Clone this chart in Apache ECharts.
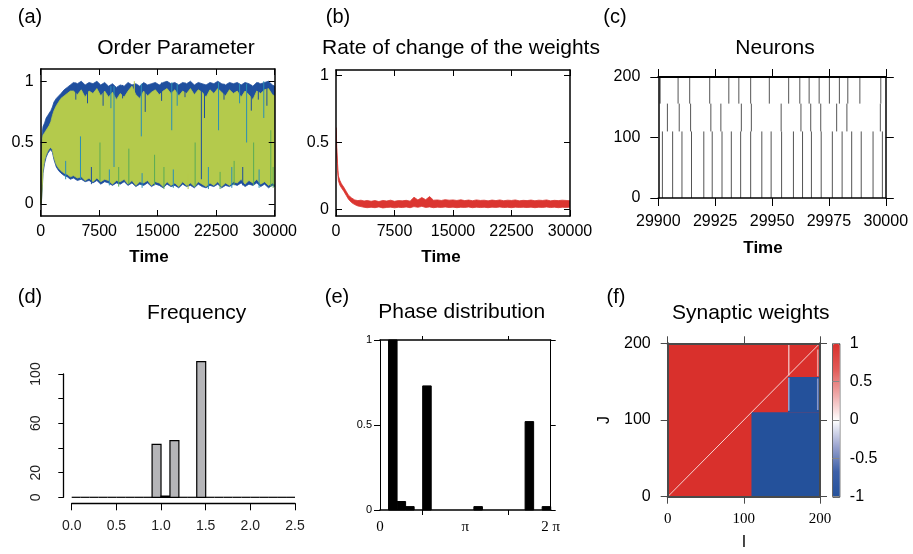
<!DOCTYPE html>
<html><head><meta charset="utf-8">
<script src="https://cdn.jsdelivr.net/npm/echarts@6/dist/echarts.min.js"></script>
<style>html,body{margin:0;padding:0;background:#fff}#c{width:913px;height:554px}</style>
</head><body><div id="c"></div><script>
// ---------------- DATA ----------------
// (a) Order parameter: envelopes of the oscillating traces
const aTime = [0,100,200,300,500,700,900,1100,1300,1500,1700,2000,2300,2600,3000,3400,3800,4200,4700,5200,5700,6200,6700,7200,7700,8200,8700,9200,9700,10200,10700,11200,11700,12200,12700,13200,13700,14200,14700,15200,15700,16200,16700,17200,17700,18200,18700,19200,19700,20200,20700,21200,21700,22200,22700,23200,23700,24200,24700,25200,25700,26200,26700,27200,27700,28200,28700,29200,29700,30000];
const aBlueHi = [0.06,0.45,0.58,0.63,0.66,0.70,0.72,0.74,0.76,0.79,0.83,0.86,0.88,0.90,0.93,0.95,0.97,0.99,0.98,1.00,0.97,0.99,0.98,1.00,0.97,0.99,0.96,0.98,0.95,0.97,0.96,0.99,0.97,0.98,0.96,0.99,0.97,0.98,0.99,0.97,0.99,1.00,0.98,0.99,0.97,0.99,0.98,1.00,0.97,0.99,0.98,0.97,0.99,0.98,1.00,0.98,0.97,0.99,0.98,0.99,0.97,0.99,0.98,0.96,0.99,0.98,0.99,1.00,0.97,0.96];
const aBlueLo = [0.00,0.02,0.12,0.25,0.33,0.38,0.41,0.43,0.44,0.42,0.36,0.30,0.27,0.25,0.23,0.22,0.20,0.21,0.19,0.20,0.18,0.19,0.17,0.19,0.16,0.18,0.17,0.15,0.17,0.16,0.18,0.15,0.17,0.14,0.16,0.15,0.17,0.14,0.16,0.15,0.13,0.16,0.14,0.15,0.13,0.16,0.14,0.15,0.13,0.16,0.14,0.13,0.15,0.14,0.16,0.13,0.15,0.14,0.16,0.15,0.17,0.14,0.16,0.15,0.17,0.14,0.16,0.13,0.15,0.14];
const aGreenHi = [0.04,0.40,0.52,0.56,0.58,0.60,0.62,0.64,0.67,0.72,0.76,0.80,0.83,0.86,0.88,0.90,0.92,0.92,0.89,0.93,0.87,0.92,0.90,0.94,0.88,0.92,0.87,0.91,0.85,0.90,0.87,0.92,0.96,0.89,0.86,0.92,0.88,0.91,0.93,0.89,0.92,0.94,0.90,0.93,0.88,0.92,0.90,0.94,0.89,0.93,0.91,0.87,0.93,0.90,0.94,0.91,0.88,0.93,0.90,0.92,0.87,0.92,0.89,0.85,0.92,0.90,0.93,0.94,0.89,0.88];
const aGreenLo = [0.00,0.03,0.15,0.28,0.36,0.40,0.43,0.45,0.46,0.44,0.38,0.32,0.29,0.27,0.25,0.24,0.22,0.23,0.21,0.22,0.19,0.21,0.18,0.21,0.18,0.20,0.19,0.16,0.19,0.18,0.20,0.16,0.19,0.15,0.18,0.17,0.19,0.15,0.18,0.17,0.14,0.18,0.15,0.17,0.14,0.18,0.15,0.17,0.14,0.18,0.16,0.14,0.17,0.15,0.18,0.14,0.17,0.15,0.18,0.17,0.20,0.16,0.19,0.17,0.20,0.16,0.18,0.15,0.17,0.16];
// single traces standing out of the band: [time, low, high, colour index]
const aSpikes = [[5100,0.20,0.55,0],[7600,0.18,0.50,1],[9400,0.30,0.96,0],[11300,0.16,0.45,1],[12000,0.88,1.00,2],[12900,0.55,0.98,0],[14600,0.15,0.40,1],[16800,0.60,0.99,0],[19800,0.14,0.50,1],[20600,0.20,0.96,3],[22800,0.60,0.99,0],[24800,0.15,0.35,1],[26400,0.50,0.98,0],[27300,0.15,0.50,1],[28600,0.70,1.00,0],[29500,0.14,0.60,1],
  [4500,0.85,0.99,3],[6000,0.82,0.98,3],[8000,0.80,0.97,3],[9000,0.78,0.96,0],[10500,0.86,0.97,3],[13400,0.75,0.98,3],[15500,0.84,0.99,3],[17500,0.80,0.98,0],[18500,0.87,0.99,3],[21000,0.70,0.97,3],[23500,0.85,0.98,3],[25500,0.82,0.98,0],[27000,0.76,0.97,3],[27900,0.85,0.99,3],[29000,0.80,0.99,3],
  [3200,0.20,0.35,0],[6500,0.16,0.30,3],[8800,0.15,0.28,0],[10000,0.14,0.30,1],[13000,0.13,0.25,0],[15800,0.12,0.30,1],[17000,0.13,0.28,0],[18900,0.12,0.25,2],[21500,0.12,0.30,0],[23000,0.12,0.26,1],[24500,0.13,0.30,0],[25900,0.15,0.30,3],[28000,0.13,0.28,0],[29800,0.13,0.30,1]];

// (b) Rate of change of the weights: band envelope
const bTime = [0,50,100,200,300,500,700,1000,1300,1600,2000,2400,2800,3200,3600,4000,4500,5000,5500,6000,6500,7000,7500,8000,8500,9000,9500,10000,10500,11000,11500,12000,12500,13000,13500,14000,14500,15000,15500,16000,16500,17000,17500,18000,18500,19000,19500,20000,20500,21000,21500,22000,22500,23000,23500,24000,24500,25000,25500,26000,26500,27000,27500,28000,28500,29000,29500,30000];
const bHi = [0.61,0.56,0.46,0.34,0.25,0.215,0.19,0.165,0.135,0.105,0.085,0.07,0.065,0.068,0.062,0.066,0.060,0.065,0.058,0.066,0.062,0.068,0.060,0.065,0.063,0.067,0.061,0.090,0.070,0.088,0.072,0.095,0.068,0.070,0.066,0.072,0.068,0.070,0.066,0.071,0.065,0.069,0.064,0.070,0.066,0.068,0.063,0.069,0.065,0.070,0.064,0.068,0.066,0.070,0.063,0.067,0.065,0.069,0.064,0.068,0.066,0.070,0.063,0.067,0.065,0.068,0.066,0.064];
const bLo = [0.57,0.50,0.40,0.29,0.215,0.18,0.16,0.135,0.105,0.075,0.05,0.035,0.025,0.02,0.015,0.012,0.015,0.012,0.018,0.010,0.014,0.016,0.011,0.015,0.013,0.017,0.012,0.020,0.015,0.022,0.014,0.018,0.012,0.016,0.014,0.017,0.013,0.016,0.012,0.015,0.014,0.017,0.012,0.016,0.013,0.015,0.012,0.016,0.014,0.017,0.013,0.015,0.012,0.016,0.014,0.015,0.013,0.016,0.012,0.015,0.014,0.017,0.013,0.016,0.012,0.015,0.014,0.016];

// (c) Neurons raster: spike times of the three groups, and their neuron ranges
const groupRanges = [[0,110],[110,156],[156,200]];
const spikesLow = [29901.8,29906.3,29910.4,29914.6,29920.0,29923.7,29928.0,29932.1,29936.2,29940.6,29945.5,29949.6,29954.2,29959.4,29963.4,29967.3,29971.6,29976.5,29980.8,29985.0,29989.2,29994.4,29998.5];
const spikesMid = [29904.0,29909.2,29914.2,29923.1,29927.5,29936.5,29940.9,29954.0,29962.7,29967.0,29971.4,29978.4,29982.9,29997.6];
const spikesTop = [29900.8,29908.7,29913.8,29922.6,29931.0,29935.4,29940.6,29948.8,29957.3,29962.2,29966.3,29970.7,29975.2,29979.6,29983.3,29988.6,29997.8];

// (d) Frequency histogram
const freqEdges = [0,0.1,0.2,0.3,0.4,0.5,0.6,0.7,0.8,0.9,1.0,1.1,1.2,1.3,1.4,1.5,1.6,1.7,1.8,1.9,2.0,2.1,2.2,2.3,2.4,2.5];
const freqCounts = [0,0,0,0,0,0,0,0,0,43,1,46,0,0,110,0,0,0,0,0,0,0,0,0,0];

// (e) Phase distribution: [bin start, bin end] in units of pi, height
const phaseBins = [[0.1,0.2,1.0],[0.2,0.3,0.05],[0.3,0.4,0.02],[0.5,0.6,0.73],[1.1,1.2,0.02],[1.7,1.8,0.52],[1.9,2.0,0.02]];

// (f) Synaptic weights: blocks [I0, I1, J0, J1, weight]
const weightBlocks = [[0,200,0,200,1],[110,200,0,110,-1],[158,200,110,156,-1],[158,160,158,198,0.3],[158,160,112,155,-0.35],[196,198,157,192,0.4],[196,198,113,154,-0.4]];
const diagonal = [[0,0],[200,200]];
const colorbarTicks = [-1,-0.5,0,0.5,1];

// ---------------- LAYOUT / HELPERS ----------------
const SANS = '"Liberation Sans", Arial, Helvetica, sans-serif';
const SERIF = '"Liberation Serif", "Times New Roman", serif';
const grids = [], xAxes = [], yAxes = [], series = [], graphics = [];

function addGrid(l,t,w,h){ grids.push({left:l,top:t,width:w,height:h,containLabel:false,outerBoundsMode:'none'}); return grids.length-1; }
function axis(gi,pos,min,max,o){
  const primary = (pos==='bottom'||pos==='left');
  const a = {
    gridIndex:gi, type:'value', position:pos, min:min, max:max, z:o.z||5,
    axisLine:{show:o.line!==false, onZero:false, lineStyle:{color:o.color||'#000', width:o.lw||1.5}},
    axisTick:{show:o.ticks!==false, inside:!!o.inside, length:o.tl||5, lineStyle:{color:o.color||'#000', width:o.tw||1}},
    axisLabel:{show:primary && o.labels!==false, margin:o.margin||8, fontSize:o.fs||16, fontFamily:o.ff||SANS, color:o.lc||'#000',
      formatter:o.fmt||(v=>String(v)), showMinLabel:true, showMaxLabel:true},
    splitLine:{show:!!o.split, lineStyle:{color:'#888', width:1}}
  };
  if (o.interval!==undefined) a.interval = o.interval;
  if (o.tickValues) a.axisTick.customValues = o.tickValues;
  if (o.labelValues) a.axisLabel.customValues = o.labelValues;
  if (o.offset) a.offset = o.offset;
  if (o.rotate) a.axisLabel.rotate = o.rotate;
  if (o.show===false) a.show = false;
  return a;
}
function addX(a){ xAxes.push(a); return xAxes.length-1; }
function addY(a){ yAxes.push(a); return yAxes.length-1; }
function text(x,y,s,font,extra){ graphics.push(Object.assign({type:'text', x:x, y:y, silent:true, style:{text:s, font:font, fill:'#000', textAlign:'center', textVerticalAlign:'middle', verticalAlign:'middle'}}, extra||{})); }
function bandRender(ts,hi,lo,color){
  return function(p,api){
    const pts=[];
    for(let i=0;i<ts.length;i++) pts.push(api.coord([ts[i],hi[i]]));
    for(let i=ts.length-1;i>=0;i--) pts.push(api.coord([ts[i],lo[i]]));
    return {type:'polygon', shape:{points:pts}, style:{fill:color, stroke:color, lineWidth:0.8}};
  };
}

// ---- (a)
const gA = addGrid(40.7,69,234,147);
const xA = addX(axis(gA,'bottom',0,30000,{interval:7500,inside:true,tl:6}));
addX(axis(gA,'top',0,30000,{interval:7500,inside:true,tl:6}));
const yA = addY(axis(gA,'left',-0.1,1.1,{tickValues:[0,0.5,1],labelValues:[0,0.5,1],inside:true,tl:6,margin:7}));
addY(axis(gA,'right',-0.1,1.1,{tickValues:[0,0.5,1],inside:true,tl:6}));
const spikeColors = ['#2b8fb5','#5aab55','#b4ca4c','#1f4f9e'];
series.push({type:'custom', xAxisIndex:xA, yAxisIndex:yA, data:[[0,0]], silent:true, clip:true, renderItem:bandRender(aTime,aBlueHi,aBlueLo,'#1f4f9e'), z:2});
series.push({type:'custom', xAxisIndex:xA, yAxisIndex:yA, data:[[0,0]], silent:true, clip:true, renderItem:bandRender(aTime,aGreenHi,aGreenLo,'#b4ca4c'), z:3});
series.push({type:'custom', xAxisIndex:xA, yAxisIndex:yA, data:aSpikes, silent:true, clip:true, encode:{x:0,y:[1,2]}, z:4,
  renderItem:function(p,api){ const a=api.coord([api.value(0),api.value(1)]), b=api.coord([api.value(0),api.value(2)]);
    return {type:'line', shape:{x1:a[0],y1:a[1],x2:b[0],y2:b[1]}, style:{stroke:spikeColors[api.value(3)], lineWidth:1}}; }});

// ---- (b)
const gB = addGrid(336,70,234,146);
const xB = addX(axis(gB,'bottom',0,30000,{interval:7500,inside:true,tl:6}));
addX(axis(gB,'top',0,30000,{interval:7500,inside:true,tl:6}));
const yB = addY(axis(gB,'left',-0.05,1.04,{tickValues:[0,0.5,1],labelValues:[0,0.5,1],inside:true,tl:6,margin:7}));
addY(axis(gB,'right',-0.05,1.04,{tickValues:[0,0.5,1],inside:true,tl:6}));
series.push({type:'custom', xAxisIndex:xB, yAxisIndex:yB, data:[[0,0]], silent:true, clip:true, renderItem:bandRender(bTime,bHi,bLo,'#db3530'), z:2});

// ---- (c)
const gC = addGrid(658.3,77,227.5,121);
const xC = addX(axis(gC,'bottom',29900,30000,{interval:25,tl:8,margin:16}));
addX(axis(gC,'top',29900,30000,{interval:25,tl:8,lw:2}));
const yC = addY(axis(gC,'left',0,200,{interval:100,tl:8,margin:18}));
addY(axis(gC,'right',0,200,{interval:100,tl:8}));
const rasterData = [];
[spikesLow,spikesMid,spikesTop].forEach((arr,g)=>arr.forEach(t=>rasterData.push([t,groupRanges[g][0],groupRanges[g][1]])));
series.push({type:'custom', xAxisIndex:xC, yAxisIndex:yC, data:rasterData, silent:true, clip:true, encode:{x:0,y:[1,2]}, z:2,
  renderItem:function(p,api){ const a=api.coord([api.value(0),api.value(1)]), b=api.coord([api.value(0),api.value(2)]);
    return {type:'line', shape:{x1:a[0],y1:a[1],x2:b[0],y2:b[1]}, style:{stroke:'#555', lineWidth:1}}; }});

// ---- (d)
const gD = addGrid(71.7,374,223.3,123.3);
const xD = addX(axis(gD,'bottom',0,2.5,{interval:0.5,tl:7,offset:6,margin:16,fs:14,lc:'#222',fmt:v=>v.toFixed(1),lw:1.3}));
const yD = addY(axis(gD,'left',0,100,{tickValues:[0,20,40,60,80,100],labelValues:[0,20,60,100],tl:5,offset:8.4,margin:20,fs:14,lc:'#222',rotate:90,lw:1.3}));
const freqData = freqCounts.map((c,i)=>[freqEdges[i],freqEdges[i+1],c]);
series.push({type:'custom', xAxisIndex:xD, yAxisIndex:yD, data:freqData, silent:true, clip:false, encode:{x:[0,1],y:2}, z:2,
  renderItem:function(p,api){ const a=api.coord([api.value(0),api.value(2)]), b=api.coord([api.value(1),0]);
    if (api.value(2)===0) return {type:'line', shape:{x1:a[0],y1:b[1],x2:b[0],y2:b[1]}, style:{stroke:'#000', lineWidth:1.2}};
    return {type:'rect', shape:{x:a[0],y:a[1],width:b[0]-a[0],height:b[1]-a[1]}, style:{fill:'#b5b5b8', stroke:'#000', lineWidth:1.2}}; }});

// ---- (e)
const gE = addGrid(380,340,170.7,170);
const PI = Math.PI;
const piFmt = v => (Math.abs(v)<1e-6 ? '0' : (Math.abs(v-PI)<1e-6 ? 'π' : '2 π'));
const xE = addX(axis(gE,'bottom',0,2*PI,{tickValues:[PI/2,3*PI/2],labelValues:[0,PI,2*PI],fmt:piFmt,ff:SERIF,fs:15,tl:5,margin:10,lw:1.5}));
addX(axis(gE,'top',0,2*PI,{tickValues:[PI/2,3*PI/2],tl:4,lw:1.5}));
const yE = addY(axis(gE,'left',0,1,{interval:0.5,tl:6,fs:11,margin:8,lw:1}));
addY(axis(gE,'right',0,1,{interval:0.5,tl:5,lw:1}));
series.push({type:'custom', xAxisIndex:xE, yAxisIndex:yE, data:phaseBins, silent:true, clip:false, encode:{x:[0,1],y:2}, z:2,
  renderItem:function(p,api){ const a=api.coord([api.value(0)*PI,api.value(2)]), b=api.coord([api.value(1)*PI,0]);
    return {type:'rect', shape:{x:a[0],y:a[1],width:b[0]-a[0],height:b[1]-a[1]}, style:{fill:'#000', stroke:'#000', lineWidth:1}}; }});

// ---- (f)
const gF = addGrid(667.7,343.3,152.3,153.4);
const fc = '#4a4a4a';
const xF = addX(axis(gF,'bottom',0,200,{interval:100,tl:7,margin:15,ff:SERIF,fs:15,color:fc,lc:'#000',lw:2}));
addX(axis(gF,'top',0,200,{interval:100,tl:7,color:fc,lw:2}));
const yF = addY(axis(gF,'left',0,200,{interval:100,tl:7,margin:17,color:fc,lc:'#000',lw:2}));
addY(axis(gF,'right',0,200,{interval:100,tl:7,color:fc,lw:2}));
const heatIdx = series.length;
series.push({type:'custom', xAxisIndex:xF, yAxisIndex:yF, data:weightBlocks, silent:true, clip:true, encode:{x:[0,1],y:[2,3]}, z:2,
  renderItem:function(p,api){ const a=api.coord([api.value(0),api.value(3)]), b=api.coord([api.value(1),api.value(2)]);
    return {type:'rect', shape:{x:a[0],y:a[1],width:b[0]-a[0],height:b[1]-a[1]}, style:{fill:api.visual('color')}}; }});
series.push({type:'line', xAxisIndex:xF, yAxisIndex:yF, data:diagonal, symbol:'none', silent:true, z:3, lineStyle:{color:'#f4d4d2', width:1}});

// colour bar labels
const gCB = addGrid(832.3,343.3,7,153.4);
addX(axis(gCB,'bottom',0,1,{show:false}));
addY(axis(gCB,'right',-1,1,{interval:0.5,line:false,ticks:false,labels:true,margin:10.5,split:true,z:10}));
yAxes[yAxes.length-1].axisLabel.show = true;
yAxes[yAxes.length-1].axisLabel.customValues = colorbarTicks;

// ---- texts
const T = '21px '+SANS, L = '20px '+SANS, B = 'bold 17px '+SANS;
text(30,17,'(a)',L); text(338,17,'(b)',L); text(615,17,'(c)',L);
text(30,297,'(d)',L); text(337,297,'(e)',L); text(616,297,'(f)',L);
text(176,48,'Order Parameter',T); text(461,48,'Rate of change of the weights',T); text(775,48,'Neurons',T);
text(196.7,313,'Frequency',T); text(461.7,312,'Phase distribution',T); text(750.8,313,'Synaptic weights',T);
text(149,257,'Time',B); text(441,257,'Time',B); text(763,248,'Time',B);
text(744,543,'I','16px '+SANS); text(605,420,'J','16px '+SANS,{rotation:Math.PI/2});

const chart = echarts.init(document.getElementById('c'), null, {renderer:'canvas'});
chart.setOption({
  animation:false, backgroundColor:'#fff',
  grid:grids, xAxis:xAxes, yAxis:yAxes, series:series, graphic:graphics,
  visualMap:[{type:'continuous', min:-1, max:1, dimension:4, seriesIndex:heatIdx, left:832.3, top:343.3, itemWidth:7, itemHeight:153.4,
    calculable:false, hoverLink:false, text:null, padding:0, borderColor:'#222', borderWidth:1, show:true, z:4,
    inRange:{color:['#24519b','#3d60a8','#9ca5d0','#ffffff','#eeaaaa','#e25a57','#d9302c']}}]
});
</script></body></html>
